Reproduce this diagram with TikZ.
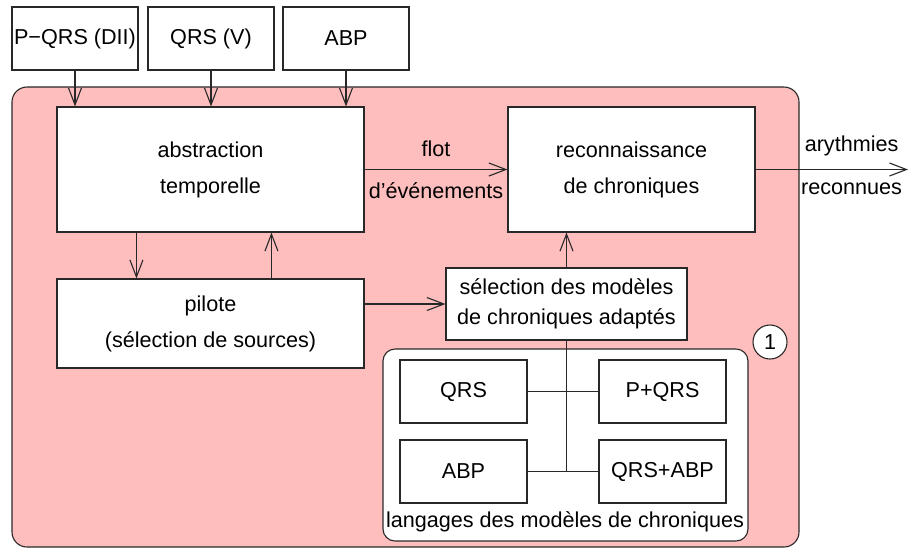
\documentclass[tikz,border=0pt]{standalone}
\usepackage{fontspec}
\setmainfont{Liberation Sans}
\usepackage{tikz}
\usetikzlibrary{arrows.meta}
\definecolor{zoneRose}{RGB}{255,190,190}
\definecolor{traitGris}{RGB}{40,40,40}

\tikzset{
  boite/.style={draw=traitGris,fill=white,line width=0.55pt,inner sep=0pt,align=center},
  fleche/.style={draw=traitGris,line width=0.55pt,-{Straight Barb[length=8.5pt,width=6.5pt]}},
  trait/.style={draw=traitGris,line width=0.55pt}
}

\begin{document}
\begin{tikzpicture}[x=0.5pt,y=-0.5pt,font=\fontsize{10.8}{18}\selectfont]
      \useasboundingbox (0,0) rectangle (910,548);
      % zone du systeme
      \fill[zoneRose,draw=traitGris,line width=0.55pt,rounded corners=7.5pt] (12,87) rectangle (799,547);
      % sources
      \foreach \n/\x/\t in {src1/75/P−QRS (DII), src2/211/QRS (V), src3/346/ABP}{
        \node[boite,minimum width=63pt,minimum height=31.5pt] (\n) at (\x,38.5) {\t};
      }
      \node[boite,minimum width=153.5pt,minimum height=62.5pt] (abs) at (210.5,169.5) {abstraction\\temporelle};
      \node[boite,minimum width=123.5pt,minimum height=62.5pt] (rec) at (631.5,169.5) {reconnaissance\\de chroniques};
      \node[boite,minimum width=153.5pt,minimum height=44.5pt] (pil) at (210.5,323.5) {pilote\\(sélection de sources)};
      \node[boite,minimum width=120.5pt,minimum height=36pt,font=\fontsize{10.8}{15}\selectfont] (sel) at (566.5,304) {sélection des modèles\\de chroniques adaptés};
      \node[draw=traitGris,fill=white,circle,line width=0.55pt,minimum size=17pt,inner sep=0pt] (num) at (770,342) {1};
      % langages
      \node[boite,rounded corners=6pt,minimum width=182.5pt,minimum height=96pt] (lang) at (565.5,445) {};
      \node (langlbl) at (565,522) {langages des modèles de chroniques};
      \foreach \n/\x/\y/\t in {lq/463.5/391.5/QRS, lpq/662.5/391.5/P+QRS, la/463.5/471.5/ABP, lqa/662.5/471.5/QRS+ABP}{
        \node[boite,minimum width=63.5pt,minimum height=31.5pt] (\n) at (\x,\y) {\t};
      }
      % connexions
      \foreach \n in {src1,src2,src3}{
        \draw[fleche] (\n.south) -- (\n.south |- abs.north);
      }
      \draw[fleche] (abs.east) -- (rec.west)
        node[midway,above=3pt] (flot) {flot}
        node[midway,below=3pt] (evts) {d'événements};
      \coordinate (sortie) at (908,169.5);
      \draw[fleche] (rec.east) -- (sortie)
        node[pos=0.63,above=3pt] (ary) {arythmies}
        node[pos=0.63,below=3pt] (recn) {reconnues};
      \draw[fleche] (abs.south west) ++(80,0) coordinate (d1) -- (d1 |- pil.north);
      \draw[fleche] (pil.north west) ++(215,0) coordinate (d2) -- (d2 |- abs.south);
      \draw[fleche] (sel.west -| pil.east) -- (sel.west);
      \draw[fleche] (sel.north) -- (sel.north |- rec.south);
      \draw[trait] (sel.south) -- (sel.south |- la.east);
      \draw[trait] (lq.east) -- (lpq.west);
      \draw[trait] (la.east) -- (lqa.west);
    \end{tikzpicture}
\end{document}
